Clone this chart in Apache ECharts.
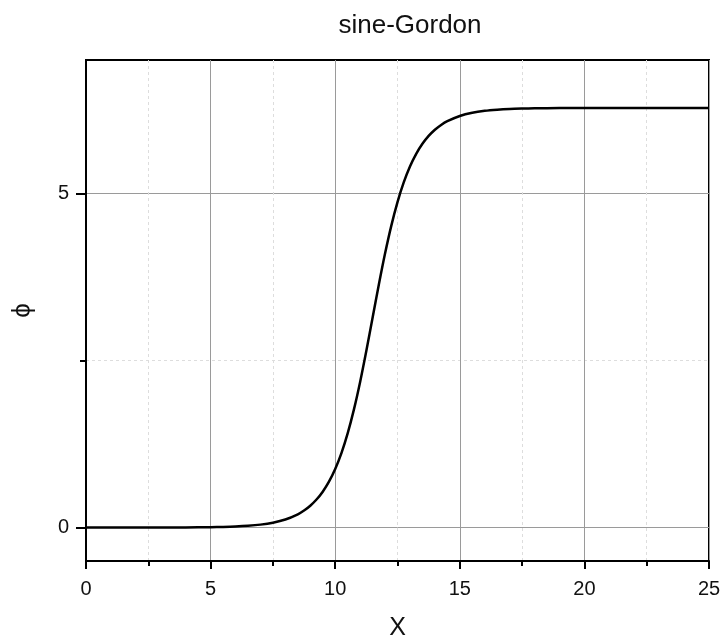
<!DOCTYPE html>
<html>
<head>
<meta charset="utf-8">
<script src="https://cdn.jsdelivr.net/npm/echarts@6/dist/echarts.min.js"></script>
<style>html,body{margin:0;padding:0;background:#fff}#c{width:724px;height:640px}</style>
</head>
<body>
<div id="c"></div>
<script>
const titleText = 'sine-Gordon';
const xName = 'X';
const yName = 'ϕ';
const xValues = [0,1,2,3,4,5,5.5,6,6.5,7,7.5,8,8.5,8.75,9,9.25,9.5,9.75,10,10.25,10.5,10.75,11,11.25,11.5,11.75,12,12.25,12.5,12.75,13,13.25,13.5,13.75,14,14.25,14.5,15,15.5,16,16.5,17,17.5,18,19,20,21,22,23,24,25];
const phiValues = [0.000,0.0001,0.0003,0.0008,0.0022,0.006,0.0099,0.0163,0.027,0.0444,0.0733,0.1208,0.199,0.2554,0.3276,0.420,0.538,0.688,0.878,1.116,1.410,1.766,2.181,2.647,3.1416,3.636,4.102,4.517,4.873,5.167,5.405,5.595,5.745,5.863,5.956,6.028,6.084,6.162,6.210,6.239,6.256,6.267,6.273,6.277,6.281,6.282,6.283,6.283,6.283,6.283,6.283];
const yMajorTicks = [0, 5];
const yMinorTicks = [2.5];

const font = 'Liberation Sans, Arial, sans-serif';
const chart = echarts.init(document.getElementById('c'));
const yBase = {
  type: 'value', min: -0.5, max: 7, position: 'left', offset: 0
};
chart.setOption({
  animation: false,
  backgroundColor: '#fff',
  title: {
    text: titleText, left: 405, top: 8, textAlign: 'center',
    textStyle: { fontFamily: font, fontSize: 26, fontWeight: 'normal', color: '#111' }
  },
  grid: {
    left: 86, right: 15, top: 60, bottom: 79,
    outerBoundsMode: 'none', containLabel: false,
    show: true, borderColor: '#000', borderWidth: 2, backgroundColor: 'transparent'
  },
  xAxis: {
    type: 'value', min: 0, max: 25, interval: 5,
    name: xName, nameLocation: 'middle', nameGap: 55,
    nameTextStyle: { fontFamily: font, fontSize: 25, color: '#111' },
    axisLine: { show: true, onZero: false, lineStyle: { color: '#000', width: 2 } },
    axisTick: { show: true, inside: false, length: 8, lineStyle: { color: '#000', width: 2 } },
    minorTick: { show: true, splitNumber: 2, length: 5, lineStyle: { color: '#000', width: 2 } },
    axisLabel: { margin: 18, fontFamily: font, fontSize: 20, color: '#111' },
    splitLine: { show: true, lineStyle: { color: '#9a9a9a', width: 1 } },
    minorSplitLine: { show: true, lineStyle: { color: '#dddddd', width: 1, type: [3, 3] } }
  },
  yAxis: [
    Object.assign({}, yBase, {
      name: yName, nameLocation: 'middle', nameGap: 50, nameRotate: 90,
      nameTextStyle: { fontFamily: font, fontSize: 26, color: '#111' },
      axisLine: { show: true, onZero: false, lineStyle: { color: '#000', width: 2 } },
      axisTick: { show: true, inside: false, length: 10, customValues: yMajorTicks, lineStyle: { color: '#000', width: 2 } },
      axisLabel: { margin: 17, customValues: yMajorTicks, fontFamily: font, fontSize: 20, color: '#111' },
      splitLine: { show: true, lineStyle: { color: '#9a9a9a', width: 1 } }
    }),
    Object.assign({}, yBase, {
      axisLine: { show: false },
      axisTick: { show: true, inside: false, length: 6, customValues: yMinorTicks, lineStyle: { color: '#000', width: 2 } },
      axisLabel: { show: false, customValues: yMinorTicks },
      splitLine: { show: true, lineStyle: { color: '#dddddd', width: 1, type: [3, 3] } }
    })
  ],
  series: [{
    type: 'line', xAxisIndex: 0, yAxisIndex: 0,
    data: xValues.map((x, i) => [x, phiValues[i]]),
    showSymbol: false, smooth: 0.3,
    lineStyle: { color: '#000', width: 2.5 }
  }]
});
</script>
</body>
</html>
